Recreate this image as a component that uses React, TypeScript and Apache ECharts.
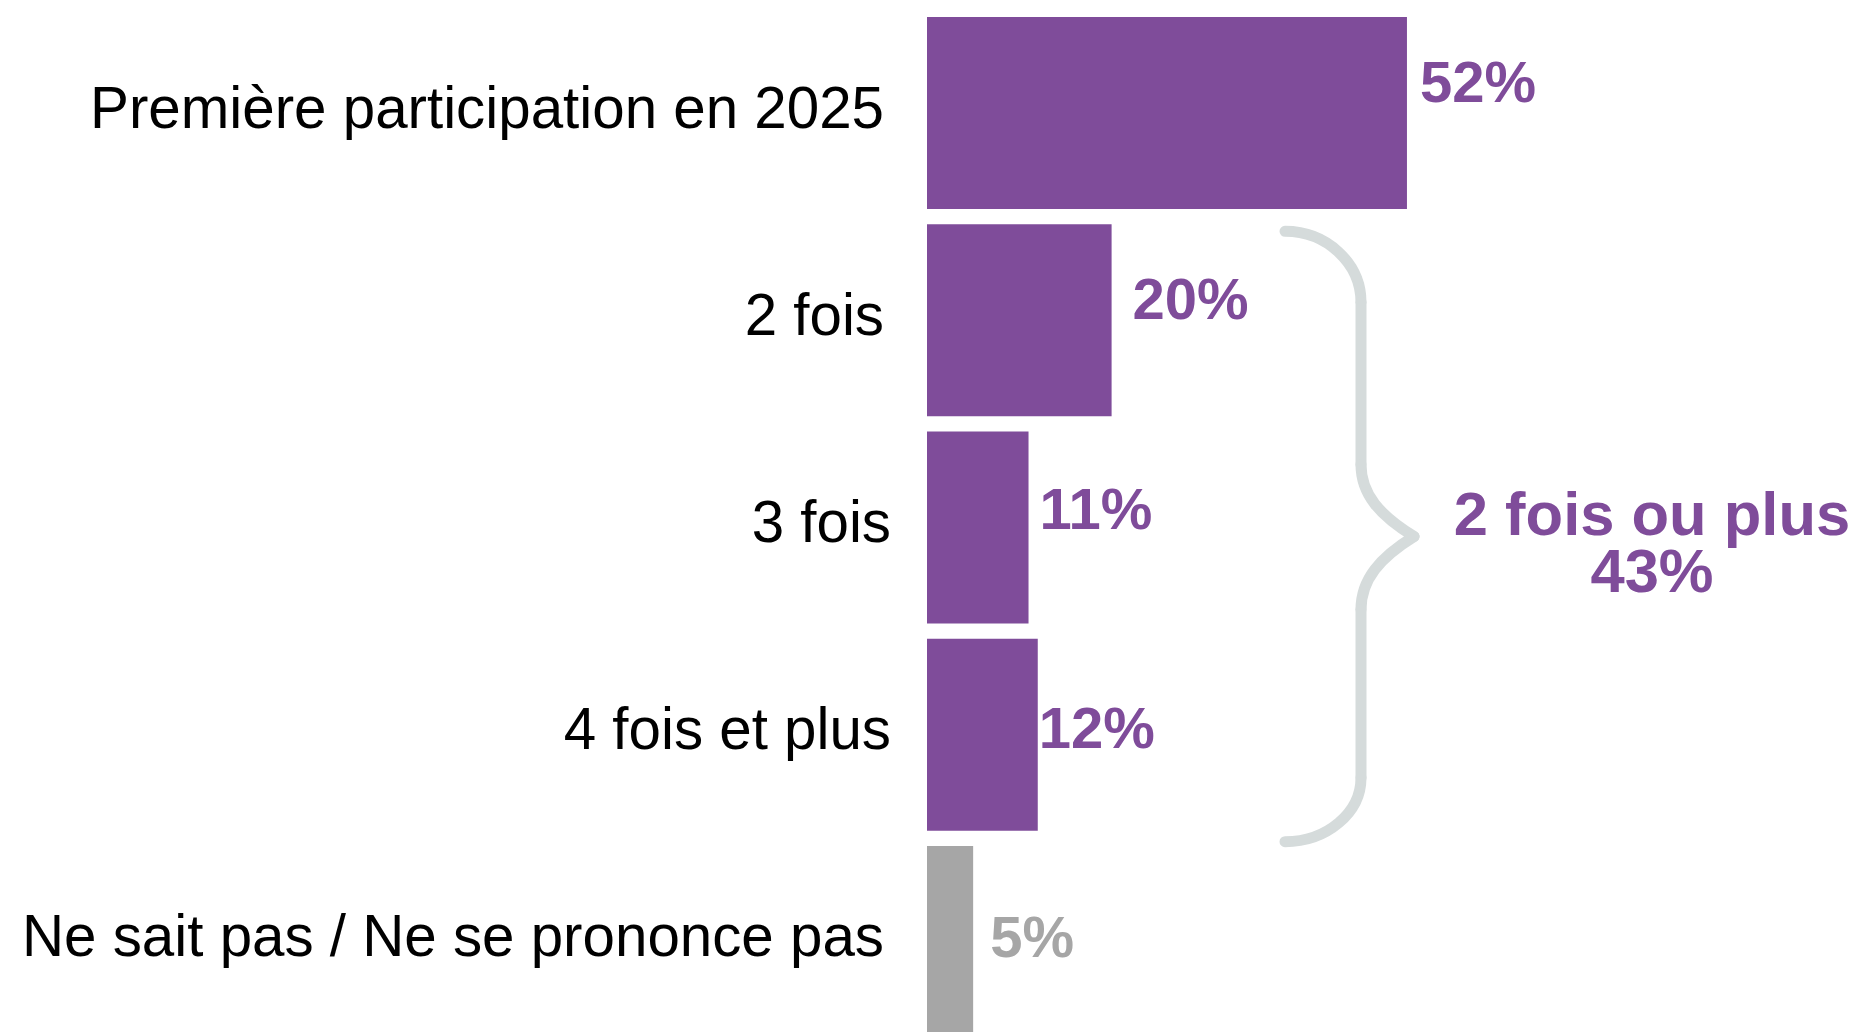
import React, { useEffect, useRef } from "react";
import * as echarts from "echarts";

const categories: string[] = [
  "Première participation en 2025",
  "2 fois",
  "3 fois",
  "4 fois et plus",
  "Ne sait pas / Ne se prononce pas",
];
const values: number[] = [52, 20, 11, 12, 5];
const groupLabel = "2 fois ou plus";
const groupIndices: number[] = [1, 2, 3];

// styling (not data)
const PURPLE = "#7F4C9A";
const GREY = "#A6A6A6";
const BRACE = "#D5DBDB";
const barColors = [PURPLE, PURPLE, PURPLE, PURPLE, GREY];
const labelOffsets: [number, number][] = [
  [13, -32],
  [21, -22],
  [11, -19],
  [1, -7],
  [17, -5],
];
const labelStyleKeys = ["a", "a", "b", "b", "a"];
const FONT = "'Liberation Sans', Arial, Helvetica, sans-serif";

export default function App() {
  const ref = useRef<HTMLDivElement>(null);
  useEffect(() => {
    if (!ref.current) return;
    const chart = echarts.init(ref.current, undefined, { renderer: "svg" });
    const catText = { fontSize: 58.3, color: "#000000", fontFamily: FONT };
    chart.setOption({
      animation: false,
      backgroundColor: "#ffffff",
      grid: {
        left: 927,
        top: 9.5,
        width: 923,
        height: 1036,
        containLabel: false,
        outerBoundsMode: "none",
      },
      xAxis: {
        type: "value",
        min: 0,
        max: 100,
        show: false,
      },
      yAxis: {
        type: "category",
        inverse: true,
        data: categories,
        axisLine: { show: false },
        axisTick: { show: false },
        splitLine: { show: false },
        axisLabel: {
          ...catText,
          margin: 36,
          formatter: (v: string, i: number) => `{${labelStyleKeys[i]}|${v}}`,
          rich: {
            a: { ...catText, padding: [0, 7, 12, 0] },
            b: { ...catText, padding: [0, 0, 12, 0] },
          },
        },
      },
      series: [
        {
          type: "bar",
          barWidth: 192,
          data: values.map((v, i) => ({
            value: v,
            itemStyle: { color: barColors[i] },
            label: { offset: labelOffsets[i], color: barColors[i] },
          })),
          label: {
            show: true,
            position: "right",
            distance: 0,
            formatter: "{c}%",
            fontSize: 58,
            fontWeight: "bold",
            fontFamily: FONT,
          },
        },
      ],
    });

    const cy1 = chart.convertToPixel({ yAxisIndex: 0 }, groupIndices[0]) as number;
    const cy2 = chart.convertToPixel({ yAxisIndex: 0 }, groupIndices[1]) as number;
    const cy3 = chart.convertToPixel({ yAxisIndex: 0 }, groupIndices[2]) as number;
    const groupTotal = groupIndices.reduce((s, i) => s + values[i], 0);

    const endX = 1285;
    const vx = 1361;
    const tipX = 1414;
    const yTopEnd = cy1 - 89;
    const yTopV = cy1 - 18;
    const yUpV = cy2 - 63;
    const yTip = cy2 + 9;
    const yLowV = cy2 + 82;
    const yLowEnd = cy3 + 43;
    const yBotEnd = cy3 + 107;
    const st = { stroke: BRACE, lineWidth: 11, lineCap: "round", lineJoin: "round" };

    chart.setOption({
      graphic: [
        {
          type: "bezierCurve",
          shape: {
            x1: endX, y1: yTopEnd,
            cpx1: endX + 0.55 * (vx - endX), cpy1: yTopEnd,
            cpx2: vx, cpy2: yTopV - 0.55 * (yTopV - yTopEnd),
            x2: vx, y2: yTopV,
          },
          style: st,
        },
        { type: "line", shape: { x1: vx, y1: yTopV, x2: vx, y2: yUpV }, style: st },
        {
          type: "bezierCurve",
          shape: {
            x1: vx, y1: yUpV,
            cpx1: vx, cpy1: yUpV + 30,
            cpx2: vx + 19, cpy2: yTip - 21,
            x2: tipX, y2: yTip,
          },
          style: st,
        },
        {
          type: "bezierCurve",
          shape: {
            x1: tipX, y1: yTip,
            cpx1: vx + 19, cpy1: yTip + 21,
            cpx2: vx, cpy2: yLowV - 30,
            x2: vx, y2: yLowV,
          },
          style: st,
        },
        { type: "line", shape: { x1: vx, y1: yLowV, x2: vx, y2: yLowEnd }, style: st },
        {
          type: "bezierCurve",
          shape: {
            x1: vx, y1: yLowEnd,
            cpx1: vx, cpy1: yLowEnd + 0.55 * (yBotEnd - yLowEnd),
            cpx2: endX + 0.55 * (vx - endX), cpy2: yBotEnd,
            x2: endX, y2: yBotEnd,
          },
          style: st,
        },
        {
          type: "text",
          x: 1652,
          y: cy2 + 14,
          style: {
            text: groupLabel + "\n" + groupTotal + "%",
            fill: PURPLE,
            font: "bold 61.5px " + FONT,
            textAlign: "center",
            textVerticalAlign: "middle",
            lineHeight: 57,
          },
        },
      ],
    });

    return () => chart.dispose();
  }, []);
  return (
    <div
      ref={ref}
      style={{ position: "fixed", left: 0, top: 0, width: 1860, height: 1046, background: "#fff" }}
    />
  );
}
